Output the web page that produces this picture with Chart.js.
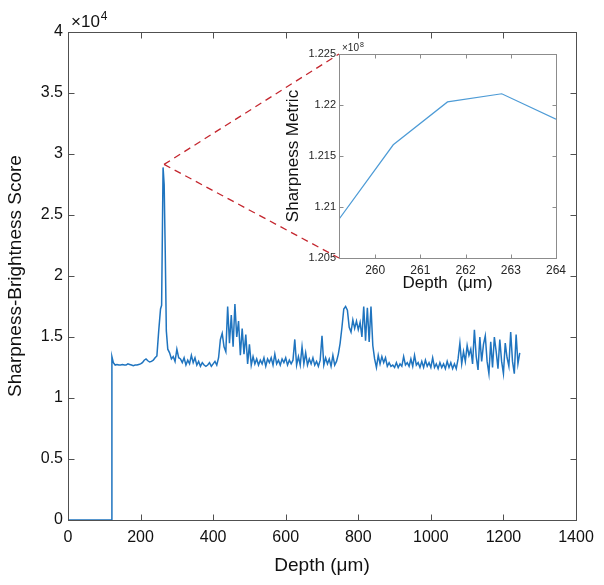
<!DOCTYPE html>
<html>
<head>
<meta charset="utf-8">
<script src="https://cdn.jsdelivr.net/npm/chart.js@4.4.1/dist/chart.umd.min.js"></script>
<style>
  body { margin: 0; background: #fff; }
  #wrap { position: relative; width: 604px; height: 585px; }
  #mainChart { position: absolute; left: 0; top: 0; }
  #insetChart { position: absolute; left: 280px; top: 30px; }
</style>
</head>
<body>
<div id="wrap">
  <canvas id="mainChart" width="604" height="585"></canvas>
  <canvas id="insetChart" width="310" height="270"></canvas>
</div>
<script>
/* main trace: depth (um) vs sharpness-brightness score */
const depth = [
  0, 120, 121, 125, 130, 135, 140, 145, 150, 155,
  160, 165, 170, 175, 180, 185, 190, 195, 200, 205,
  210, 215, 220, 225, 230, 235, 240, 245, 250, 255,
  258, 262, 265, 268, 271, 275,
  280, 285, 290, 295, 300, 305, 310, 315, 320, 325,
  330, 335, 340, 345, 350, 355, 360, 365, 370, 375,
  380, 385, 390, 395, 400, 405, 410, 415, 420, 425,
  430, 435, 440, 445, 450, 455, 460, 465, 470, 475,
  480, 485, 490, 495, 500, 505, 510, 515, 520, 525,
  530, 535, 540, 545, 550, 555, 560, 565, 570, 575,
  580, 585, 590, 595, 600, 605, 610, 615, 620, 625,
  630, 635, 640, 645, 650, 655, 660, 665, 670, 675,
  680, 685, 690, 695, 700, 705, 710, 715, 720, 725,
  730, 735, 740, 745, 750, 755, 760, 765, 770, 775,
  780, 785, 790, 795, 800, 805, 810, 815, 820, 825,
  830, 835, 840, 845, 850, 855, 860, 865, 870, 875,
  880, 885, 890, 895, 900, 905, 910, 915, 920, 925,
  930, 935, 940, 945, 950, 955, 960, 965, 970, 975,
  980, 985, 990, 995, 1000, 1005, 1010, 1015, 1020, 1025,
  1030, 1035, 1040, 1045, 1050, 1055, 1060, 1065, 1070, 1075,
  1080, 1085, 1090, 1095, 1100, 1105, 1110, 1115, 1120, 1125,
  1130, 1135, 1140, 1145, 1150, 1155, 1160, 1165, 1170, 1175,
  1180, 1185, 1190, 1195, 1200, 1205, 1210, 1215, 1220, 1225,
  1230, 1235, 1240, 1245
];
const score = [
  0, 0, 13400, 12900, 12700, 12750, 12700, 12700, 12750, 12700,
  12700, 12800, 12750, 12700, 12650, 12700, 12700, 12750, 12800, 12900,
  13100, 13200, 13050, 12950, 13000, 13100, 13300, 13450, 15500, 17300,
  17600, 28900, 27500, 22000, 15500, 14000,
  13700, 13200, 13400, 13000, 14000, 13300, 13200, 12900, 13300, 12700,
  13100, 12800, 13500, 12900, 13300, 12700, 13000, 12600, 12900, 12700,
  12600, 12700, 12900, 12600, 12800, 13000, 12700, 13300, 14800, 15300,
  14200, 13800, 17500, 14500, 16800, 14200, 17700, 15000, 16300, 13500,
  15700, 13600, 15200, 12800, 14400, 12700, 13400, 12800, 13200, 12700,
  13100, 12800, 13300, 12600, 13200, 12900, 13300, 12700, 13600, 12800,
  13100, 12700, 13200, 12900, 13300, 12700, 13100, 12800, 13100, 14800,
  12700, 13400, 12700, 14200, 12800, 13700, 12700, 13200, 12800, 13300,
  12700, 13000, 12600, 13100, 15100, 12700, 13300, 12800, 13200, 12600,
  13500, 12700, 13000, 13600, 14500, 15800, 17300, 17500, 17200, 15800,
  15400, 16400, 15700, 16300, 15600, 16200, 15000, 17500, 14700, 17400,
  14600, 17500, 14300, 13200, 12500, 13500, 12800, 13400, 12900, 13300,
  12600, 12900, 12600, 12700, 12500, 12900, 12500, 12800, 12600, 13400,
  12700, 12900, 12600, 13200, 12600, 13500, 12700, 12900, 12500, 13000,
  12500, 13100, 12600, 12900, 12500, 13300, 12500, 12800, 12400, 12900,
  12500, 12800, 12400, 13000, 12500, 12900, 12400, 12800, 12400, 13200,
  14500, 12800, 13800, 13000, 14300, 13500, 14000, 12800, 15600, 13400,
  12300, 15000, 13000, 14400, 15100, 13000, 12000, 14600, 12500, 15000,
  13800, 12400, 14800, 13000, 12000, 14500, 13300, 12600, 15400, 13000,
  12000, 15200, 12800, 13700
];

/* inset: zoom around the peak */
const insetDepth = [259.2, 260.4, 261.6, 262.8, 264.0];
const insetMetric = [1.2088, 1.2161, 1.2203, 1.2211, 1.2186]; // x 1e8

const FONT = "'Liberation Sans', Arial, Helvetica, sans-serif";

/* box around the plot, inward ticks on all four sides, and the x10^n label */
const boxTicks = {
  id: 'boxTicks',
  beforeDatasetsDraw(chart, args, opts) {
    if (!opts.fill) return;
    const a = chart.chartArea;
    chart.ctx.save();
    chart.ctx.fillStyle = opts.fill;
    chart.ctx.fillRect(a.left, a.top, a.right - a.left, a.bottom - a.top);
    chart.ctx.restore();
  },
  afterDraw(chart, args, opts) {
    const a = chart.chartArea;
    const ctx = chart.ctx;
    const len = opts.len;
    const L = Math.round(a.left) + 0.5, R = Math.round(a.right) + 0.5;
    const T = Math.round(a.top) + 0.5, B = Math.round(a.bottom) + 0.5;
    ctx.save();
    ctx.strokeStyle = opts.color;
    ctx.lineWidth = 1;
    ctx.beginPath();
    chart.scales.x.ticks.forEach(t => {
      const px = Math.round(chart.scales.x.getPixelForValue(t.value)) + 0.5;
      ctx.moveTo(px, B); ctx.lineTo(px, B - len);
      ctx.moveTo(px, T); ctx.lineTo(px, T + len);
    });
    chart.scales.y.ticks.forEach(t => {
      const py = Math.round(chart.scales.y.getPixelForValue(t.value)) + 0.5;
      ctx.moveTo(L, py); ctx.lineTo(L + len, py);
      ctx.moveTo(R, py); ctx.lineTo(R - len, py);
    });
    ctx.stroke();
    ctx.strokeRect(L, T, R - L, B - T);

    // exponent label above the y axis
    const e = opts.exp;
    ctx.fillStyle = opts.textColor;
    ctx.textBaseline = 'alphabetic';
    ctx.font = e.size + 'px ' + FONT;
    const bx = a.left + e.dx, by = a.top - e.dy;
    ctx.fillText(e.text, bx, by);
    const w = ctx.measureText(e.text).width;
    ctx.font = Math.round(e.size * 0.72) + 'px ' + FONT;
    ctx.fillText(e.power, bx + w + 1, by - e.size * 0.42);
    ctx.restore();
  }
};

const insetCanvas = document.getElementById('insetChart');

const inset = new Chart(insetCanvas, {
  type: 'line',
  data: {
    datasets: [{
      data: insetDepth.map((d, i) => ({ x: d, y: insetMetric[i] })),
      borderColor: '#4d9bd6',
      borderWidth: 1.2,
      pointRadius: 0,
      tension: 0
    }]
  },
  options: {
    responsive: false,
    animation: false,
    events: [],
    layout: { padding: { top: 24, right: 34, left: 0, bottom: 0 } },
    plugins: {
      legend: { display: false },
      tooltip: { enabled: false },
      boxTicks: {
        color: '#8c8c8c', len: 4, fill: '#fff', textColor: '#262626',
        exp: { text: '×10', power: '8', size: 10, dx: 3, dy: 3 }
      }
    },
    scales: {
      x: {
        type: 'linear', min: 259.2, max: 264,
        grid: { display: false, drawTicks: false }, border: { display: false },
        ticks: { stepSize: 1, includeBounds: false, maxRotation: 0, padding: 5,
                 color: '#262626', font: { family: FONT, size: 12 },
                 callback: v => String(v) },
        title: { display: true, text: 'Depth  (μm)', color: '#111',
                 font: { family: FONT, size: 17 }, padding: { top: 0, bottom: 6 } },
        afterFit(s) { s.height = 42; }
      },
      y: {
        min: 1.205, max: 1.225,
        grid: { display: false, drawTicks: false }, border: { display: false },
        ticks: { stepSize: 0.005, padding: 3, color: '#262626',
                 font: { family: FONT, size: 11 },
                 callback: v => String(+v.toFixed(3)) },
        title: { display: true, text: 'Sharpness Metric', color: '#111',
                 font: { family: FONT, size: 17 }, padding: { top: 3, bottom: 0 } },
        afterFit(s) { s.width = 59; }
      }
    }
  },
  plugins: [boxTicks]
});

/* red dashed lines from the peak to the inset's left corners */
const zoomLines = {
  id: 'zoomLines',
  afterDatasetsDraw(chart) {
    const ia = inset.chartArea;
    const peak = score.indexOf(Math.max(...score));
    const px = chart.scales.x.getPixelForValue(depth[peak]) + 1;
    const py = chart.scales.y.getPixelForValue(score[peak]) - 3;
    const ox = insetCanvas.offsetLeft + ia.left;
    const ctx = chart.ctx;
    ctx.save();
    ctx.strokeStyle = '#c4262e';
    ctx.lineWidth = 1.3;
    ctx.setLineDash([7, 5]);
    ctx.beginPath();
    ctx.moveTo(px, py); ctx.lineTo(ox, insetCanvas.offsetTop + ia.top);
    ctx.moveTo(px, py); ctx.lineTo(ox, insetCanvas.offsetTop + ia.bottom);
    ctx.stroke();
    ctx.restore();
  }
};

new Chart(document.getElementById('mainChart'), {
  type: 'line',
  data: {
    datasets: [{
      data: depth.map((d, i) => ({ x: d, y: score[i] })),
      borderColor: '#1f74bf',
      borderWidth: 1.5,
      pointRadius: 0,
      tension: 0
    }]
  },
  options: {
    responsive: false,
    animation: false,
    events: [],
    layout: { padding: { top: 32, right: 28, left: 0, bottom: 0 } },
    plugins: {
      legend: { display: false },
      tooltip: { enabled: false },
      boxTicks: {
        color: '#505050', len: 6, textColor: '#111',
        exp: { text: '×10', power: '4', size: 17, dx: 3, dy: 5 }
      }
    },
    scales: {
      x: {
        type: 'linear', min: 0, max: 1400,
        grid: { display: false, drawTicks: false }, border: { display: false },
        ticks: { stepSize: 200, maxRotation: 0, padding: 8, color: '#111',
                 font: { family: FONT, size: 16 },
                 callback: v => String(v) },
        title: { display: true, text: 'Depth (μm)', color: '#111',
                 font: { family: FONT, size: 19 }, padding: { top: 0, bottom: 8 } },
        afterFit(s) { s.height = 65; }
      },
      y: {
        min: 0, max: 40000,
        grid: { display: false, drawTicks: false }, border: { display: false },
        ticks: { stepSize: 5000, padding: 5, color: '#111',
                 font: { family: FONT, size: 16 },
                 callback: v => String(v / 10000) },
        title: { display: true, text: 'Sharpness-Brightness Score', color: '#111',
                 font: { family: FONT, size: 19 }, padding: { top: 4, bottom: 0 } },
        afterFit(s) { s.width = 68; }
      }
    }
  },
  plugins: [boxTicks, zoomLines]
});
</script>
</body>
</html>
